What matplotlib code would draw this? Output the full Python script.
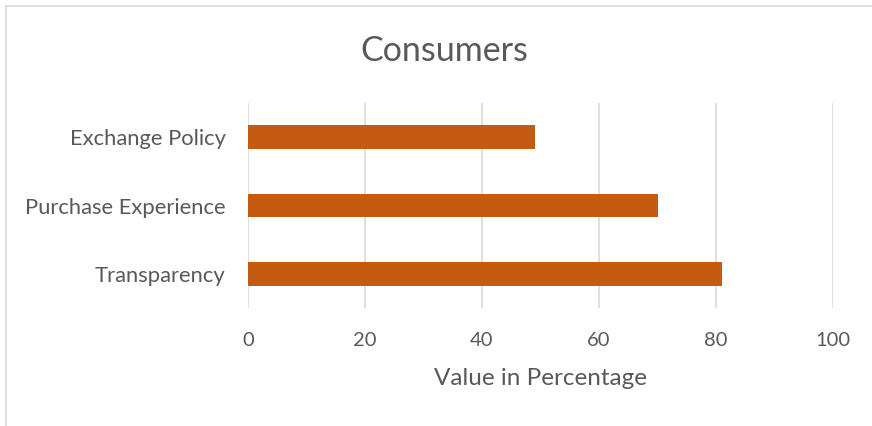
import matplotlib.pyplot as plt
from matplotlib.patches import Rectangle

categories = ["Transparency", "Purchase Experience", "Exchange Policy"]
values = [81, 70, 49]
xticks = [0, 20, 40, 60, 80, 100]

plt.rcParams['font.family'] = ['Lato', 'DejaVu Sans']
grey = '#595959'

fig = plt.figure(figsize=(8.72, 4.26), dpi=100)
ax = fig.add_axes([248 / 872, 1 - 308 / 426, (833 - 248) / 872, (308 - 103) / 426])

# outer chart frame (cropped on right and bottom)
fig.patches.append(Rectangle((6 / 872, -0.1), 1.2, 1 - 6 / 426 + 0.1, transform=fig.transFigure,
                             fill=False, edgecolor='#d9d9d9', linewidth=1.2))

ax.barh(range(len(categories)), values, height=0.35, color='#C55A11', zorder=3)
ax.set_yticks(range(len(categories)))
ax.set_yticklabels(categories)
ax.set_ylim(-0.5, 2.5)
ax.set_xlim(0, 100)
ax.set_xticks(xticks)

ax.grid(axis='x', color='#d9d9d9', linewidth=1.2, zorder=0)
for s in ['top', 'right', 'bottom', 'left']:
    ax.spines[s].set_visible(False)
ax.tick_params(length=0, labelcolor=grey)
ax.tick_params(axis='x', pad=17, labelsize=14.5)
ax.tick_params(axis='y', pad=16, labelsize=15.8)

ax.set_xlabel("Value in Percentage", fontsize=17.5, color=grey, labelpad=14)
fig.text(444 / 872, 1 - 51 / 426, "Consumers", fontsize=24.5, color=grey, ha='center', va='center')

fig.savefig("out.png", dpi=100)
